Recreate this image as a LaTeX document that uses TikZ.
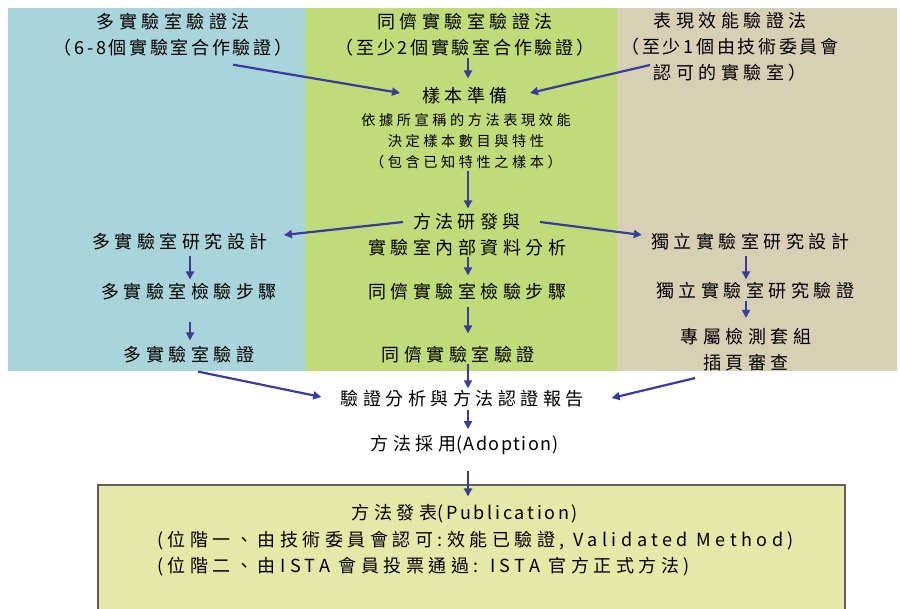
\documentclass[tikz,border=0pt]{standalone}
\usepackage{fontspec}
\setmainfont{Noto Sans CJK TC}
\newfontfamily\cjkw[LetterSpace=25]{Noto Sans CJK TC}
\newfontfamily\cjkm[LetterSpace=15]{Noto Sans CJK TC}
\newfontfamily\cjkn[LetterSpace=8]{Noto Sans CJK TC}
\usetikzlibrary{arrows.meta,calc}
\definecolor{pblue}{HTML}{A9D4DA}
\definecolor{pgreen}{HTML}{C0DB79}
\definecolor{ptan}{HTML}{D8D0B5}
\definecolor{pbox}{HTML}{E3E9A6}
\definecolor{pframe}{HTML}{5E5E5E}
\definecolor{arrc}{HTML}{3B3B9B}
\tikzset{
  big/.style={font=\cjkw\fontsize{18}{26}\selectfont, inner sep=0pt, align=center, text=black},
  small/.style={font=\cjkw\fontsize{14.2}{21}\selectfont, inner sep=0pt, align=center, text=black},
  arr/.style={draw=arrc, line width=2.2pt, -{Triangle[length=8pt,width=8pt]}},
}
\begin{document}
\begin{tikzpicture}[x=1pt,y=-1pt]
\useasboundingbox (0,0) rectangle (900,609);
% panels
\fill[pblue] (8,8) rectangle (305,371);
\fill[pgreen] (305,8) rectangle (617,371);
\fill[ptan] (617,8) rectangle (897,371);
\fill[pbox] (98,485) rectangle (845,609);
\draw[pframe, line width=2pt] (98,609) -- (98,485) -- (845,485) -- (845,609);

% top headings
\node[big] (t1) at (173,35) {多實驗室驗證法\\{\cjkm （6-8個實驗室合作驗證）}};
\node[big] (t2) at (465,35) {同儕實驗室驗證法\\{\cjkm （至少2個實驗室合作驗證）}};
\node[big] (t3) at (730,47) {表現效能驗證法\\{\cjkm （至少1個由技術委員會}\\認可的實驗室）};

% sample preparation
\node[big] (samp) at (465,96) {樣本準備};
\node[small] (sampd) at (466,141) {依據所宣稱的方法表現效能\\決定樣本數目與特性\\（包含已知特性之樣本）};

% method development
\node[big] (meth) at (467,235) {方法研發與\\實驗室內部資料分析};

% left column
\node[big] (ld1) at (180,242) {多實驗室研究設計};
\node[big] (ld2) at (189,292) {多實驗室檢驗步驟};
\node[big] (ld3) at (189,355) {多實驗室驗證};

% middle column
\node[big] (md2) at (467,292) {同儕實驗室檢驗步驟};
\node[big] (md3) at (458,355) {同儕實驗室驗證};

% right column
\node[big] (rd1) at (750,242) {獨立實驗室研究設計};
\node[big] (rd2) at (755,291) {獨立實驗室研究驗證};
\node[big] (rd3) at (746,349.5) {專屬檢測套組\\插頁審查};

% report, adoption, publication
\node[big] (rep) at (462,399) {驗證分析與方法認證報告};
\node[big] (adopt) at (465,445) {方法採用{\cjkn(Adoption)}};
\node[big] (pub1) at (465,514) {方法發表{\cjkm(Publication)}};
\node[big, align=left, anchor=west] (pub2) at (157,554) {(位階一、由技術委員會認可:效能已驗證, Validated Method)\\(位階二、由ISTA 會員投票通過: ISTA 官方正式方法)};

% arrows
\draw[arr] ($(t1.south)+(60,8)$) -- ($(samp.west)+(-22,-3)$);
\draw[arr] ($(t2.south)+(3,1)$) -- ($(samp.north)+(3,-9)$);
\draw[arr] ($(t3.center)+(-80,18)$) -- ($(samp.east)+(22,-3)$);
\draw[arr] ($(sampd.south)+(2,2)$) -- ($(meth.north)+(1,-5)$);
\draw[arr] ($(meth.center)+(-64,-13)$) -- ($(ld1.east)+(16,-7)$);
\draw[arr] ($(meth.center)+(73,-13)$) -- ($(rd1.west)+(-9,-7)$);
\draw[arr] ($(ld1.south -| ld2)+(1,5)$) -- ($(ld2.north)+(1,-4)$);
\draw[arr] ($(ld2.south)+(1,21)$) -- ($(ld3.north)+(1,-6)$);
\draw[arr] ($(meth.south)+(1,0)$) -- ($(md2.north)+(1,-8)$);
\draw[arr] ($(md2.south)+(1,6)$) -- ($(md3.north -| md2)+(1,-13)$);
\draw[arr] ($(md3.south -| md2)+(1,0)$) -- ($(rep.north -| md2)+(1,-2)$);
\draw[arr] ($(rd1.south -| rd3)+(0,5)$) -- ($(rd2.north -| rd3)+(0,-3)$);
\draw[arr] ($(rd2.south -| rd3)+(0,1)$) -- ($(rd3.north)+(0,-10)$);
\draw[arr] ($(ld3.south)+(9,8)$) -- ($(rep.west)+(-19,-2)$);
\draw[arr] ($(rd3.south)+(-51,7)$) -- ($(rep.east)+(28,-1)$);
\draw[arr] ($(rep.south -| md2)+(1,2)$) -- ($(adopt.north -| md2)+(1,-6)$);
\draw[arr] ($(adopt.south -| md2)+(1,16)$) -- ($(pub1.north -| md2)+(1,-8)$);
\end{tikzpicture}
\end{document}
